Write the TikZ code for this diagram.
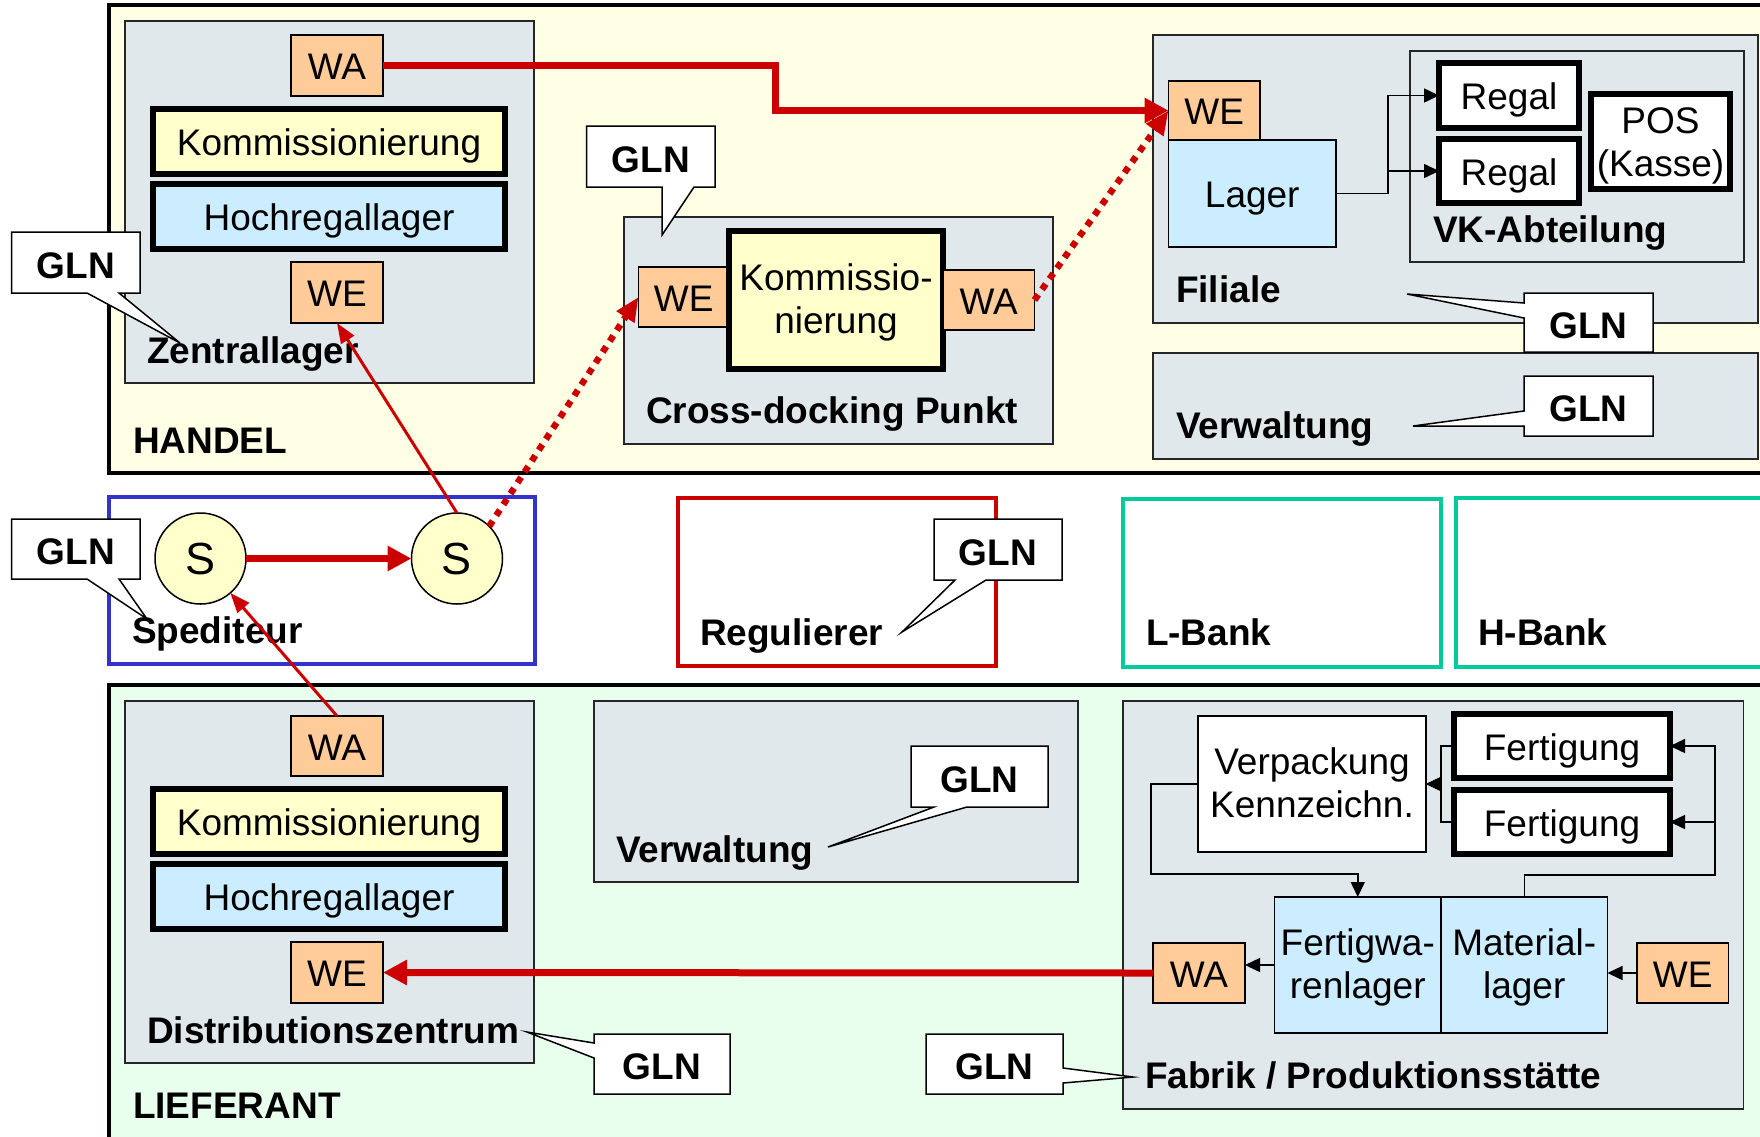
\documentclass[tikz,border=0pt]{standalone}
\usepackage{fontspec}
\setmainfont{Liberation Sans}
\usepackage{xcolor}
\usepackage{tikz}
\usetikzlibrary{positioning,arrows.meta}
\definecolor{handelbg}{HTML}{FFFFE6}
\definecolor{lieferbg}{HTML}{E8FFEE}
\definecolor{sitegray}{HTML}{E0E8EC}
\definecolor{peach}{HTML}{FFCC99}
\definecolor{paleyellow}{HTML}{FFFFCC}
\definecolor{storeblue}{HTML}{CCECFF}
\definecolor{flowred}{HTML}{CC0000}
\definecolor{spedblue}{HTML}{3333CC}
\definecolor{bankteal}{HTML}{00CC99}

\begin{document}
\begin{tikzpicture}[x=1pt,y=-1pt,
    every node/.style={inner sep=0pt,outer sep=0pt,align=center,font=\fontsize{37}{43}\selectfont},
    oneline/.style={text height=28pt,text depth=0pt},
    twoline/.style={text height=66pt,text depth=0pt},
    party/.style={draw,line width=4pt},
    site/.style={draw=black!85,line width=1.5pt,fill=sitegray},
    port/.style={draw,line width=1.5pt,fill=peach,anchor=north west,oneline},
    stage/.style={draw,line width=5.5pt,anchor=north west,oneline},
    store/.style={draw,line width=1.5pt,fill=storeblue,anchor=north west,oneline},
    plain/.style={draw,line width=1.5pt,fill=white,anchor=north west,oneline},
    stop/.style={circle,draw,line width=1.5pt,fill=paleyellow,minimum size=91pt,font=\fontsize{45}{50}\selectfont},
    title/.style={anchor=base west,font=\fontsize{37}{43}\selectfont\bfseries},
    callout/.style={draw,line width=1.5pt,fill=white},
    gln/.style={font=\fontsize{37}{43}\selectfont\bfseries,text height=31pt,text depth=0pt},
    goods/.style={draw=flowred,line width=7pt,-{Triangle[length=24pt,width=24pt]}},
    route/.style={draw=flowred,line width=6.5pt,dash pattern=on 6.5pt off 6.5pt,-{Triangle[length=24pt,width=20pt]}},
    pickup/.style={draw=flowred,line width=3pt,-{Triangle[length=20pt,width=15pt]}},
    flow/.style={draw,line width=1.5pt,-{Triangle[length=15pt,width=14pt]}}]
  \useasboundingbox (0,0) rectangle (1760,1136);
  \clip (0,0) rectangle (1760,1136);

  % HANDEL
  \draw[party,fill=handelbg] (109,5) rectangle (1775,473);
  \node[title] (handel) at (133,453) {HANDEL};

  % Zentrallager
  \draw[site] (125,21) rectangle (534,383);
  \node[port,minimum width=92pt,minimum height=61pt] (zWA) at (291,35) {WA};
  \node[stage,fill=paleyellow,minimum width=352pt,minimum height=65pt] (zKomm) at (153,109) {Kommissionierung};
  \node[stage,fill=storeblue,minimum width=352pt,minimum height=65pt,below=10pt of zKomm] (zHoch) {Hochregallager};
  \node[port,minimum width=92pt,minimum height=61pt] (zWE) at (291,262) {WE};
  \node[title] (zentral) at (147,363) {Zentrallager};
  \draw[callout] (11.5,232) -- (140,232) -- (140,293) -- (119,293) -- (180,343) -- (87,293) -- (11.5,293) -- cycle;
  \node[gln] (glnZ) at (75.75,262.5) {GLN};

  % Cross-docking
  \draw[site] (624,217) rectangle (1053,444);
  \node[port,minimum width=90.5pt,minimum height=60pt] (crWE) at (638.5,267) {WE};
  \node[stage,twoline,fill=paleyellow,minimum width=214pt,minimum height=138pt] (crKomm) at (729,231) {Kommissio-\\nierung};
  \node[port,minimum width=91.5pt,minimum height=60pt,anchor=west,right=0pt of crKomm] (crWA) {WA};
  \node[title] (cross) at (646,423) {Cross-docking Punkt};
  \draw[callout] (586.5,126) -- (715,126) -- (715,187) -- (694,187) -- (662,235) -- (662,187) -- (586.5,187) -- cycle;
  \node[gln] (glnC) at (650.75,156.5) {GLN};

  % Filiale
  \draw[site] (1153,35) rectangle (1758,323);
  \node[port,minimum width=91.5pt,minimum height=59pt] (fWE) at (1168.5,81) {WE};
  \node[store,minimum width=167.5pt,minimum height=107pt,below=0pt of fWE.south west,anchor=north west] (lager) {Lager};
  \draw[draw=black!85,line width=1.5pt] (1410,51) rectangle (1744,262);
  \node[stage,fill=white,minimum width=140pt,minimum height=65pt] (regal1) at (1439,63) {Regal};
  \node[stage,fill=white,minimum width=140pt,minimum height=64pt,below=11pt of regal1] (regal2) {Regal};
  \node[stage,twoline,text height=69pt,fill=white,minimum width=139pt,minimum height=95pt] (pos) at (1591,94) {POS\\(Kasse)};
  \node[title] (vk) at (1433,242) {VK-Abteilung};
  \node[title] (filiale) at (1176,302) {Filiale};
  \draw[flow] (lager.east) -- ++(52,0) |- (regal1.west);
  \draw[flow] (lager.east) -- ++(52,0) |- (regal2.west);

  % Verwaltung Handel
  \draw[site] (1153,353) rectangle (1758,459);
  \node[title] (verwH) at (1176,438) {Verwaltung};
  \draw[callout] (1524,293) -- (1653,293) -- (1653,352) -- (1524,352) -- (1524,318) -- (1407,294) -- (1524,303) -- cycle;
  \node[gln] (glnF) at (1588.5,322.5) {GLN};
  \draw[callout] (1524,376) -- (1653,376) -- (1653,436) -- (1524,436) -- (1524,426) -- (1413,426) -- (1524,411) -- cycle;
  \node[gln] (glnVH) at (1588.5,406) {GLN};

  % Spediteur
  \draw[draw=spedblue,line width=3.5pt,fill=white] (109,497) rectangle (535,664);
  \node[stop] (S1) at (200.5,558.5) {S};
  \node[stop] (S2) at (457,558.5) {S};
  \node[title] (sped) at (132,643) {Spediteur};
  \draw[callout] (11.5,519) -- (140,519) -- (140,579) -- (119,579) -- (147,619) -- (87,579) -- (11.5,579) -- cycle;
  \node[gln] (glnS) at (75.75,549) {GLN};

  % Regulierer und Banken
  \draw[draw=flowred,line width=3.5pt] (678,498) rectangle (996,666);
  \node[title] (reg) at (700,645) {Regulierer};
  \draw[callout] (934,519) -- (1062,519) -- (1062,580) -- (986,580) -- (902,632) -- (955,580) -- (934,580) -- cycle;
  \node[gln] (glnR) at (998,549.5) {GLN};
  \draw[draw=bankteal,line width=3.5pt] (1123,499) rectangle (1441,667);
  \node[title] (lbank) at (1146,645) {L-Bank};
  \draw[draw=bankteal,line width=3.5pt] (1456,498) rectangle (1775,667);
  \node[title] (hbank) at (1478,645) {H-Bank};

  % LIEFERANT
  \draw[party,fill=lieferbg] (109,685) rectangle (1775,1150);
  \node[title] (liefer) at (133,1118) {LIEFERANT};

  % Distributionszentrum
  \draw[site] (125,701) rectangle (534,1063);
  \node[port,minimum width=92pt,minimum height=60pt] (dWA) at (291,716) {WA};
  \node[stage,fill=paleyellow,minimum width=352pt,minimum height=65pt] (dKomm) at (153,789) {Kommissionierung};
  \node[stage,fill=storeblue,minimum width=352pt,minimum height=65pt,below=10pt of dKomm] (dHoch) {Hochregallager};
  \node[port,minimum width=92pt,minimum height=61pt] (dWE) at (291,942) {WE};
  \node[title] (distri) at (147,1043) {Distributionszentrum};
  \draw[callout] (594,1034) -- (730,1034) -- (730,1094) -- (594,1094) -- (594,1058) -- (527,1032) -- (594,1043) -- cycle;
  \node[gln] (glnD) at (662,1064) {GLN};

  % Verwaltung Lieferant
  \draw[site] (594,701) rectangle (1078,882);
  \node[title] (verwL) at (616,862) {Verwaltung};
  \draw[callout] (911,746) -- (1048,746) -- (1048,807) -- (967,807) -- (828,847) -- (934,807) -- (911,807) -- cycle;
  \node[gln] (glnVL) at (979.5,776.5) {GLN};

  % Fabrik
  \draw[site] (1123,701) rectangle (1743.5,1109);
  \node[plain,twoline,minimum width=228pt,minimum height=136pt] (verp) at (1198,716) {Verpackung\\Kennzeichn.};
  \node[stage,fill=white,minimum width=216pt,minimum height=64pt] (fert1) at (1454,714) {Fertigung};
  \node[stage,fill=white,minimum width=216pt,minimum height=64pt,below=12pt of fert1] (fert2) {Fertigung};
  \node[store,twoline,minimum width=166.5pt,minimum height=136pt] (fertigwa) at (1274.5,897) {Fertigwa-\\renlager};
  \node[store,twoline,minimum width=166.5pt,minimum height=136pt,anchor=west,right=0pt of fertigwa] (material) {Material-\\lager};
  \node[port,minimum width=92pt,minimum height=60pt] (fWA) at (1153,943) {WA};
  \node[port,minimum width=91.5pt,minimum height=60pt] (mWE) at (1637,943) {WE};
  \node[title] (fabrik) at (1145,1088) {Fabrik / Produktionsstätte};
  \draw[callout] (926,1034) -- (1063,1034) -- (1063,1068) -- (1133,1077) -- (1063,1083) -- (1063,1094) -- (926,1094) -- cycle;
  \node[gln] (glnFa) at (994.5,1064) {GLN};
  \coordinate (loop) at (1715,875);
  \draw[flow] (mWE.west) -- (mWE.west -| material.east);
  \draw[flow] (fertigwa.west) -- (fertigwa.west -| fWA.east);
  \draw[flow] (material.north) |- (loop) |- (fert1.east);
  \draw[flow] (loop |- fert2.east) -- (fert2.east);
  \draw[flow] (fert1.west) -- ++(-13,0) |- (verp.east);
  \draw[flow] (fert2.west) -- ++(-13,0) |- (verp.east);
  \draw[flow] (verp.west) -| ++(-47,90) -| (fertigwa.north);

  % Warenfluss
  \draw[goods] (zWA.east) -- (775,65.5) |- (fWE.west);
  \draw[goods] (S1) -- (S2);
  \draw[goods] (fWA.west) -- (dWE.east);
  \draw[pickup] (dWA.north) -- (S1);
  \draw[pickup] (S2.north) -- (zWE.south);
  \draw[route] (S2.north east) -- (crWE.west);
  \draw[route] (crWA.east) -- (fWE.west);
\end{tikzpicture}
\end{document}
